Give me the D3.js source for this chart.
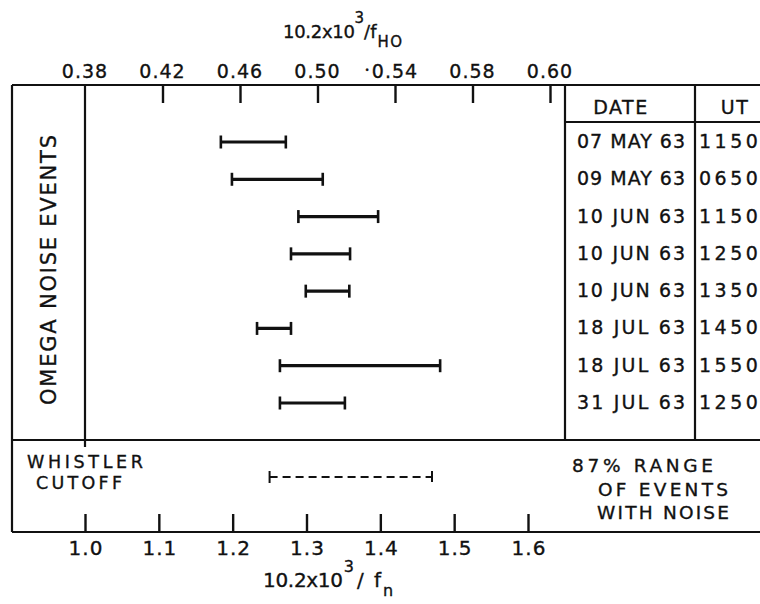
<!DOCTYPE html>
<html>
<head>
<meta charset="utf-8">
<script src="https://cdn.jsdelivr.net/npm/d3@7"></script>
<style>
  html, body { margin: 0; padding: 0; background: #fff; }
  svg { display: block; }
  text { font-family: "DejaVu Sans", sans-serif; fill: #111; stroke: #111; stroke-width: 0.35px; }
</style>
</head>
<body>
<script>
// ---- data ----
const dates = ["07 MAY 63", "09 MAY 63", "10 JUN 63", "10 JUN 63", "10 JUN 63", "18 JUL 63", "18 JUL 63", "31 JUL 63"];
const times = ["1150", "0650", "1150", "1250", "1350", "1450", "1550", "1250"];
const lows  = [1.184, 1.199, 1.289, 1.279, 1.299, 1.233, 1.264, 1.264];
const highs = [1.272, 1.322, 1.397, 1.359, 1.358, 1.279, 1.481, 1.352];
const whistlerRange = [1.250, 1.470];
const bottomTicks = [1.0, 1.1, 1.2, 1.3, 1.4, 1.5, 1.6];
const bottomTickLabels = ["1.0", "1.1", "1.2", "1.3", "1.4", "1.5", "1.6"];
const topTickLabels = ["0.38", "0.42", "0.46", "0.50", "0.54", "0.58", "0.60"];

const W = 760, H = 604;
const svg = d3.select("body").append("svg").attr("width", W).attr("height", H);

// layout
const L = 12, T = 85, B = 532, SEP = 440, R = W;
const colDate = 565, colUT = 695, headY = 122;

const x = d3.scaleLinear().domain([1.0, 1.6]).range([85, 528]);
const xTop = d3.scalePoint().domain(topTickLabels).range([85, 550]);
const y = d3.scalePoint().domain(d3.range(dates.length)).range([142, 403]);

const ink = "#111";

// frame
const frame = svg.append("g").attr("stroke", ink).attr("stroke-width", 2.2).attr("fill", "none");
frame.append("line").attr("x1", L).attr("x2", R).attr("y1", T).attr("y2", T);
frame.append("line").attr("x1", L).attr("x2", R).attr("y1", B).attr("y2", B);
frame.append("line").attr("x1", L).attr("x2", R).attr("y1", SEP).attr("y2", SEP);
frame.append("line").attr("x1", L).attr("x2", L).attr("y1", T).attr("y2", B);
frame.append("line").attr("x1", x(1.0)).attr("x2", x(1.0)).attr("y1", T).attr("y2", SEP + 7);
frame.append("line").attr("x1", colDate).attr("x2", colDate).attr("y1", T).attr("y2", SEP);
frame.append("line").attr("x1", colUT).attr("x2", colUT).attr("y1", T).attr("y2", SEP);
frame.append("line").attr("x1", colDate).attr("x2", R).attr("y1", headY).attr("y2", headY);

// top axis
const topAxis = d3.axisTop(xTop).tickSize(-18).tickPadding(0).tickFormat("");
const gTop = svg.append("g").attr("transform", `translate(0,${T})`).call(topAxis);
gTop.select(".domain").remove();
gTop.selectAll(".tick line").attr("stroke", ink).attr("stroke-width", 2.4)
  .filter(d => d === topTickLabels[0]).remove();
svg.append("g").selectAll("text").data(topTickLabels).join("text")
  .attr("x", d => xTop(d)).attr("y", 78)
  .attr("text-anchor", "middle").attr("font-size", 19).attr("letter-spacing", 1)
  .text(d => d);
svg.append("text").attr("x", 367).attr("y", 73).attr("text-anchor", "middle")
  .attr("font-size", 8).text("•");

// top title
const tt = svg.append("text").attr("x", 283).attr("y", 38).attr("font-size", 18);
tt.append("tspan").attr("letter-spacing", -0.3).text("10.2x10");
tt.append("tspan").attr("font-size", 15).attr("dy", -15).attr("dx", 0).text("3");
tt.append("tspan").attr("dy", 15).attr("dx", 0).text("/f");
tt.append("tspan").attr("font-size", 15).attr("dy", 9).attr("dx", 1).attr("letter-spacing", 1.5).text("HO");

// bottom axis
const botAxis = d3.axisBottom(x).tickValues(bottomTicks).tickSize(-18).tickFormat("");
const gBot = svg.append("g").attr("transform", `translate(0,${B})`).call(botAxis);
gBot.select(".domain").remove();
gBot.selectAll(".tick line").attr("stroke", ink).attr("stroke-width", 2.4);
svg.append("g").selectAll("text").data(bottomTicks).join("text")
  .attr("x", d => x(d) + 1).attr("y", 555)
  .attr("text-anchor", "middle").attr("font-size", 20).attr("letter-spacing", 1)
  .text((d, i) => bottomTickLabels[i]);

// bottom title
const bt = svg.append("text").attr("x", 263).attr("y", 587).attr("font-size", 20);
bt.append("tspan").attr("letter-spacing", -0.3).text("10.2x10");
bt.append("tspan").attr("font-size", 16).attr("dy", -15).attr("dx", 1).text("3");
bt.append("tspan").attr("dy", 15).attr("dx", 3).attr("letter-spacing", 2).text("/ f");
bt.append("tspan").attr("font-size", 16).attr("dy", 9).text("n");

// event bars
const bars = svg.append("g").attr("stroke", ink);
bars.selectAll("line.bar").data(lows).join("line").attr("class", "bar")
  .attr("x1", (d, i) => x(lows[i])).attr("x2", (d, i) => x(highs[i]))
  .attr("y1", (d, i) => y(i)).attr("y2", (d, i) => y(i))
  .attr("stroke-width", 3.2);
bars.selectAll("line.capL").data(lows).join("line").attr("class", "capL")
  .attr("x1", (d, i) => x(lows[i])).attr("x2", (d, i) => x(lows[i]))
  .attr("y1", (d, i) => y(i) - 6.5).attr("y2", (d, i) => y(i) + 6.5)
  .attr("stroke-width", 2.6);
bars.selectAll("line.capR").data(highs).join("line").attr("class", "capR")
  .attr("x1", (d, i) => x(highs[i])).attr("x2", (d, i) => x(highs[i]))
  .attr("y1", (d, i) => y(i) - 6.5).attr("y2", (d, i) => y(i) + 6.5)
  .attr("stroke-width", 2.6);

// whistler dashed range
const wy = 477;
const wg = svg.append("g").attr("stroke", ink);
wg.append("line").attr("x1", x(whistlerRange[0])).attr("x2", x(whistlerRange[1]))
  .attr("y1", wy).attr("y2", wy).attr("stroke-width", 1.8).attr("stroke-dasharray", "8,5");
wg.append("line").attr("x1", x(whistlerRange[0])).attr("x2", x(whistlerRange[0]))
  .attr("y1", wy - 6).attr("y2", wy + 6).attr("stroke-width", 2);
wg.append("line").attr("x1", x(whistlerRange[1])).attr("x2", x(whistlerRange[1]))
  .attr("y1", wy - 6).attr("y2", wy + 5).attr("stroke-width", 2);

// table header and rows
svg.append("text").attr("x", 621).attr("y", 114).attr("text-anchor", "middle")
  .attr("font-size", 19).attr("letter-spacing", 1.5).text("DATE");
svg.append("text").attr("x", 735).attr("y", 114).attr("text-anchor", "middle")
  .attr("font-size", 19).attr("letter-spacing", 1.5).text("UT");
svg.append("g").selectAll("text").data(dates).join("text")
  .attr("x", 631).attr("y", (d, i) => y(i) + 6)
  .attr("text-anchor", "middle").attr("font-size", 19)
  .attr("textLength", 108).attr("lengthAdjust", "spacing")
  .text(d => d);
svg.append("g").selectAll("text").data(times).join("text")
  .attr("x", 699).attr("y", (d, i) => y(i) + 6)
  .attr("font-size", 19).attr("letter-spacing", 3.5)
  .text(d => d);

// side label
svg.append("text").attr("transform", "translate(56,270) rotate(-90)")
  .attr("text-anchor", "middle").attr("font-size", 21)
  .attr("textLength", 270).attr("lengthAdjust", "spacing")
  .text("OMEGA  NOISE  EVENTS");

// whistler labels
svg.append("text").attr("x", 27).attr("y", 468).attr("font-size", 17.5)
  .attr("textLength", 116).attr("lengthAdjust", "spacing").text("WHISTLER");
svg.append("text").attr("x", 36).attr("y", 489).attr("font-size", 17.5)
  .attr("textLength", 86).attr("lengthAdjust", "spacing").text("CUTOFF");

svg.append("text").attr("x", 572).attr("y", 472).attr("font-size", 18.5)
  .attr("textLength", 141).attr("lengthAdjust", "spacing").text("87% RANGE");
svg.append("text").attr("x", 598).attr("y", 496).attr("font-size", 18.5)
  .attr("textLength", 130).attr("lengthAdjust", "spacing").text("OF EVENTS");
svg.append("text").attr("x", 597).attr("y", 519).attr("font-size", 18.5)
  .attr("textLength", 132).attr("lengthAdjust", "spacing").text("WITH NOISE");
</script>
</body>
</html>
